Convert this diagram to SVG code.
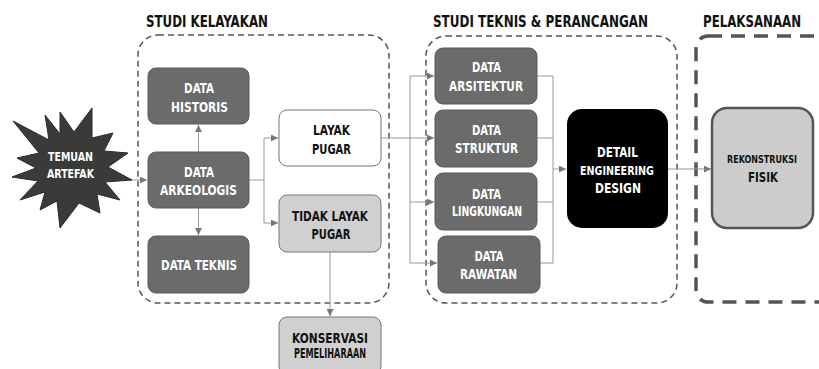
<svg xmlns="http://www.w3.org/2000/svg" width="819" height="369" viewBox="0 0 819 369">
<style>
text{font-family:"DejaVu Sans Condensed","Liberation Sans Narrow","Liberation Sans",sans-serif;font-weight:bold;text-anchor:middle}
.title{font-size:15.5px;fill:#111}
.dark rect{fill:#6b6b6b;stroke:#5a5a5a;stroke-width:1}
.dark text{fill:#fff;font-size:14px}
.light rect{fill:#d0d0d0;stroke:#777;stroke-width:1}
.white rect{fill:#fff;stroke:#777;stroke-width:1}
.light text,.white text{fill:#111;font-size:14px}
.grp{fill:none;stroke:#555;stroke-width:1.5;stroke-dasharray:6 4}
.grp3{fill:none;stroke:#555;stroke-width:3.5;stroke-dasharray:14 9}
.c{fill:none;stroke:#999;stroke-width:1}
</style>
<defs>
<marker id="ah" viewBox="0 0 8 8" refX="8" refY="4" markerWidth="7" markerHeight="7" orient="auto" markerUnits="userSpaceOnUse">
<path d="M0,0 L8,4 L0,8 z" fill="#777"/>
</marker>
</defs>
<text class="title" x="207" y="27" textLength="122" lengthAdjust="spacingAndGlyphs">STUDI KELAYAKAN</text>
<text class="title" x="540.5" y="27" textLength="215" lengthAdjust="spacingAndGlyphs">STUDI TEKNIS &amp; PERANCANGAN</text>
<text class="title" x="752" y="27" textLength="98" lengthAdjust="spacingAndGlyphs">PELAKSANAAN</text>
<rect class="grp" x="138" y="35" width="251" height="268" rx="20"/>
<rect class="grp" x="426" y="36" width="251" height="267" rx="20"/>
<rect class="grp3" x="696" y="36" width="140" height="266" rx="12"/>
<g id="connectors">
<path class="c" d="M130,180 H147" marker-end="url(#ah)"/>
<path class="c" d="M198.5,152 V125" marker-end="url(#ah)"/>
<path class="c" d="M198.5,208 V235" marker-end="url(#ah)"/>
<path class="c" d="M249,180 H264 V138 H278" marker-end="url(#ah)"/>
<path class="c" d="M264,180 V223 H278" marker-end="url(#ah)"/>
<path class="c" d="M330,252 V316" marker-end="url(#ah)"/>
<path class="c" d="M381,138 H410"/>
<path class="c" d="M410,76 V263"/>
<path class="c" d="M410,76 H434" marker-end="url(#ah)"/>
<path class="c" d="M410,138 H434" marker-end="url(#ah)"/>
<path class="c" d="M410,202 H434" marker-end="url(#ah)"/>
<path class="c" d="M410,263 H437" marker-end="url(#ah)"/>
<path class="c" d="M537,76 H553 V263 H540"/>
<path class="c" d="M537,138 H553"/>
<path class="c" d="M537,202 H553"/>
<path class="c" d="M553,169 H566" marker-end="url(#ah)"/>
<path class="c" d="M668,169 H711" marker-end="url(#ah)"/>
</g>
<g id="temuan">
<polygon points="92,108 92,138 113,133 104,151 128,153 108,167 132,180 105,182 120,200 97,194 100,213 79,203 60,228 57,201 40,210 45,192 20,200 38,181 12,177 36,168 17,158 39,153 13,121 49,140 45,115 60,134 60,112 74,132" fill="#3a3a3a" stroke="#2a2a2a" stroke-width="1" stroke-linejoin="miter"/>
<text x="70.5" y="161" fill="#fff" font-size="12" textLength="45" lengthAdjust="spacingAndGlyphs">TEMUAN</text>
<text x="70.5" y="178" fill="#fff" font-size="12" textLength="47" lengthAdjust="spacingAndGlyphs">ARTEFAK</text>
</g>
<g id="data-historis" class="dark"><rect x="148" y="68" width="101" height="56" rx="8"/><text x="199" y="93" textLength="30" lengthAdjust="spacingAndGlyphs">DATA</text><text x="199.5" y="112" textLength="57" lengthAdjust="spacingAndGlyphs">HISTORIS</text></g>
<g id="data-arkeologis" class="dark"><rect x="148" y="152" width="101" height="56" rx="8"/><text x="199" y="177" textLength="30" lengthAdjust="spacingAndGlyphs">DATA</text><text x="198.5" y="195" textLength="77" lengthAdjust="spacingAndGlyphs">ARKEOLOGIS</text></g>
<g id="data-teknis" class="dark"><rect x="148" y="236" width="101" height="57" rx="8"/><text x="199" y="270" textLength="76" lengthAdjust="spacingAndGlyphs">DATA TEKNIS</text></g>
<g id="layak-pugar" class="white"><rect x="279" y="110" width="102" height="56" rx="8"/><text x="331.5" y="135" textLength="37" lengthAdjust="spacingAndGlyphs">LAYAK</text><text x="331.5" y="154" textLength="39" lengthAdjust="spacingAndGlyphs">PUGAR</text></g>
<g id="tidak-layak" class="light"><rect x="279" y="195" width="102" height="57" rx="8"/><text x="330" y="221" textLength="76" lengthAdjust="spacingAndGlyphs">TIDAK LAYAK</text><text x="331" y="239" textLength="39" lengthAdjust="spacingAndGlyphs">PUGAR</text></g>
<g id="konservasi" class="light"><rect x="279" y="317" width="102" height="57" rx="8"/><text x="330" y="343" textLength="76" lengthAdjust="spacingAndGlyphs">KONSERVASI</text><text x="330" y="358" font-size="9.5" textLength="72" lengthAdjust="spacingAndGlyphs">PEMELIHARAAN</text></g>
<g id="data-arsitektur" class="dark"><rect x="435" y="48" width="102" height="56" rx="8"/><text x="486.5" y="72" textLength="29" lengthAdjust="spacingAndGlyphs">DATA</text><text x="486" y="91" textLength="74" lengthAdjust="spacingAndGlyphs">ARSITEKTUR</text></g>
<g id="data-struktur" class="dark"><rect x="435" y="110" width="102" height="57" rx="8"/><text x="486.5" y="135" textLength="29" lengthAdjust="spacingAndGlyphs">DATA</text><text x="486.5" y="153" textLength="63" lengthAdjust="spacingAndGlyphs">STRUKTUR</text></g>
<g id="data-lingkungan" class="dark"><rect x="435" y="173" width="102" height="57" rx="8"/><text x="486.5" y="199" textLength="29" lengthAdjust="spacingAndGlyphs">DATA</text><text x="487" y="216" font-size="12.5" textLength="70" lengthAdjust="spacingAndGlyphs">LINGKUNGAN</text></g>
<g id="data-rawatan" class="dark"><rect x="438" y="236" width="102" height="57" rx="8"/><text x="489" y="261" textLength="29" lengthAdjust="spacingAndGlyphs">DATA</text><text x="488.5" y="279" textLength="57" lengthAdjust="spacingAndGlyphs">RAWATAN</text></g>
<g id="ded"><rect x="567" y="109" width="101" height="119" rx="15" fill="#000"/><text x="617.5" y="157" fill="#fff" font-size="14" textLength="41" lengthAdjust="spacingAndGlyphs">DETAIL</text><text x="617" y="175" fill="#fff" font-size="13" textLength="74" lengthAdjust="spacingAndGlyphs">ENGINEERING</text><text x="618" y="193" fill="#fff" font-size="14" textLength="46" lengthAdjust="spacingAndGlyphs">DESIGN</text></g>
<g id="rekonstruksi"><rect x="712" y="108" width="101" height="120" rx="15" fill="#cccccc" stroke="#555" stroke-width="2.5"/><text x="762" y="163" fill="#111" font-size="10" textLength="70" lengthAdjust="spacingAndGlyphs">REKONSTRUKSI</text><text x="763" y="182" fill="#111" font-size="14" textLength="30" lengthAdjust="spacingAndGlyphs">FISIK</text></g>
</svg>
